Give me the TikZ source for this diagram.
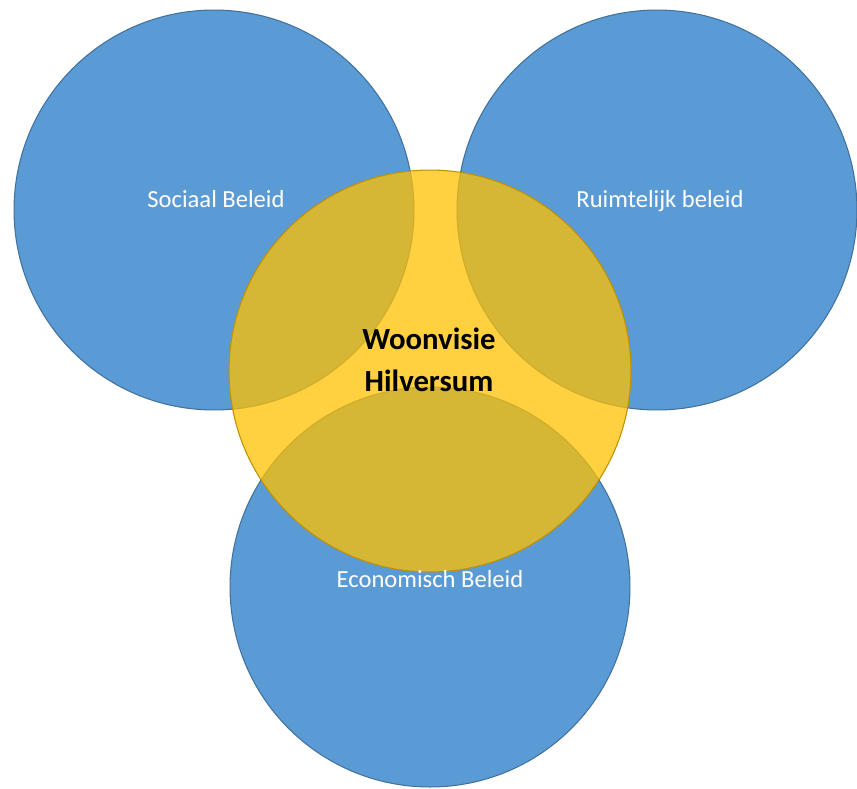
\documentclass[tikz,border=0pt]{standalone}
\usepackage{fontspec}
\setmainfont{Carlito}
\usetikzlibrary{positioning}

\definecolor{beleidblue}{HTML}{5B9BD5}
\definecolor{beleidedge}{HTML}{41719C}
\definecolor{visiegold}{HTML}{FFC000}
\definecolor{visieedge}{HTML}{BF9000}

\begin{document}
\begin{tikzpicture}[x=0.02cm, y=-0.02cm,
  beleid/.style={circle, fill=beleidblue, draw=beleidedge, line width=0.6pt, minimum size=8cm, inner sep=0pt},
  visie/.style={circle, fill=visiegold, fill opacity=0.75, draw=visieedge, line width=0.6pt, minimum size=8.04cm, inner sep=0pt},
  tag/.style={text=white, font=\fontsize{14}{16}\selectfont, text height=10pt, text depth=3pt},
  kern/.style={text=black, font=\bfseries\fontsize{17.5}{24}\selectfont, align=center}]
  \useasboundingbox (0,0) rectangle (857,788);
  % the three policy fields
  \node[beleid] (sociaal) at (214,210) {};
  \node[beleid] (ruimte) at (657,210) {};
  \node[beleid] (econ) at (430,587) {};
  % the housing vision on top
  \node[visie] (woon) at (430,371) {};
  \node[tag] (sociaaltxt) at (216,201) {Sociaal Beleid};
  \node[tag] (ruimtetxt) at (660,201) {Ruimtelijk beleid};
  \node[tag] (econtxt) at (430,581) {Economisch Beleid};
  \node[kern] (woontxt) at (429,360) {Woonvisie\\Hilversum};
\end{tikzpicture}
\end{document}
